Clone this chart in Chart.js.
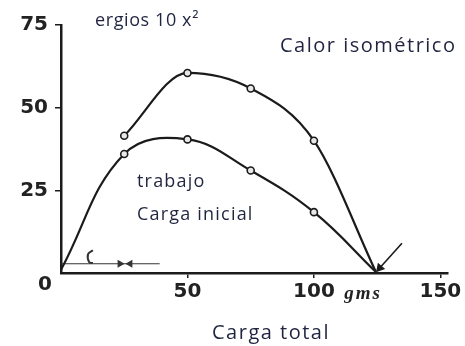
<!DOCTYPE html>
<html>
<head>
<meta charset="utf-8">
<script src="https://cdn.jsdelivr.net/npm/chart.js@4/dist/chart.umd.min.js"></script>
<style>
  html, body { margin: 0; padding: 0; background: #fff; }
  #wrap { width: 465px; height: 346px; }
</style>
</head>
<body>
<div id="wrap"><canvas id="myChart" width="465" height="346"></canvas></div>
<script>
// Curva superior: calor isométrico
const cargaCalor = [25, 50, 75, 100, 124.5];
const calorIsometrico = [41.5, 60.5, 55.8, 40, 0.3];

// Curva inferior: trabajo
const cargaTrabajo = [0, 25, 50, 75, 100, 124.5];
const trabajo = [1, 36, 40.4, 31, 18.4, 0.3];

// Marca de carga inicial: línea con dos puntas enfrentadas y el gancho
const flechaInicialX = [0, 23.3, 27.3, 39];
const flechaInicialY = [2.8, 2.8, 2.8, 2.8];
const ganchoX = [12.6, 10.7, 11.1, 12.6];
const ganchoY = [6.9, 5.7, 3.3, 3.0];

// Flecha que señala el final de las curvas
const flechaFinalX = [134.8, 126];
const flechaFinalY = [9, 1.5];

const xTicks = [50, 100, 150];
const yTicks = [25, 50, 75];

const ink = '#1b1b1b';
const textColor = '#1f2540';

function toPoints(xs, ys) {
    return xs.map((x, i) => ({ x: x, y: ys[i] }));
}

// marcadores solo en los puntos medidos, no en los extremos
function markers(n, first, last) {
    return Array.from({ length: n }, (_, i) => (i < first || i > n - 1 - last) ? 0 : 3.5);
}

// textos sueltos del dibujo
const textos = {
    id: 'textos',
    afterDraw(chart) {
        const ctx = chart.ctx;
        const x = chart.scales.x;
        const y = chart.scales.y;
        ctx.save();
        ctx.textBaseline = 'middle';
        ctx.textAlign = 'left';
        ctx.fillStyle = textColor;

        ctx.letterSpacing = '1.2px';
        ctx.font = '18px "Open Sans"';
        ctx.fillText('trabajo', 137, 182);
        ctx.fillText('Carga inicial', 137, 215);
        ctx.letterSpacing = '0.6px';
        ctx.fillText('ergios 10 x²', 95, 21);

        ctx.letterSpacing = '1.5px';
        ctx.font = '20px "Open Sans"';
        ctx.fillText('Calor isométrico', 280, 46);
        ctx.textAlign = 'center';
        ctx.fillText('Carga total', 271, 333);

        // "0" del origen y unidades del eje x
        ctx.letterSpacing = '0px';
        ctx.fillStyle = '#222';
        ctx.font = 'bold 20px "DejaVu Sans"';
        ctx.fillText('0', x.getPixelForValue(0) - 16, y.getPixelForValue(0) + 12);
        ctx.letterSpacing = '2px';
        ctx.font = 'italic bold 19px "Liberation Serif"';
        ctx.textAlign = 'left';
        ctx.fillText('gms', x.getPixelForValue(112), y.getPixelForValue(0) + 21);
        ctx.restore();
    }
};

const ctx = document.getElementById('myChart').getContext('2d');

new Chart(ctx, {
    type: 'line',
    data: {
        datasets: [
            {
                label: 'Calor isométrico',
                data: toPoints(cargaCalor, calorIsometrico),
                borderColor: ink,
                borderWidth: 2.2,
                backgroundColor: '#e8e8e8',
                pointBorderColor: ink,
                pointBorderWidth: 1.6,
                pointRadius: markers(cargaCalor.length, 0, 1),
                cubicInterpolationMode: 'monotone',
                fill: false
            },
            {
                label: 'trabajo',
                data: toPoints(cargaTrabajo, trabajo),
                borderColor: ink,
                borderWidth: 2.2,
                backgroundColor: '#e8e8e8',
                pointBorderColor: ink,
                pointBorderWidth: 1.6,
                pointRadius: markers(cargaTrabajo.length, 1, 1),
                tension: 0.4,
                fill: false
            },
            {
                label: 'carga inicial',
                data: toPoints(flechaInicialX, flechaInicialY),
                borderColor: '#333',
                borderWidth: 1.2,
                pointStyle: 'triangle',
                pointRotation: [0, 90, 270, 0],
                pointRadius: [0, 3.5, 3.5, 0],
                pointBackgroundColor: '#333',
                pointBorderColor: '#333',
                fill: false
            },
            {
                label: 'gancho',
                data: toPoints(ganchoX, ganchoY),
                borderColor: '#333',
                borderWidth: 2,
                pointRadius: 0,
                tension: 0.4,
                fill: false
            },
            {
                label: 'flecha final',
                data: toPoints(flechaFinalX, flechaFinalY),
                borderColor: ink,
                borderWidth: 1.6,
                pointStyle: 'triangle',
                pointRotation: 221,
                pointRadius: [0, 4],
                pointBackgroundColor: ink,
                pointBorderColor: ink,
                fill: false
            }
        ]
    },
    options: {
        responsive: false,
        animation: false,
        layout: { padding: { top: 25, right: 17, left: 0, bottom: 0 } },
        plugins: {
            legend: { display: false },
            tooltip: { enabled: false }
        },
        scales: {
            x: {
                type: 'linear',
                min: 0,
                max: 153,
                afterBuildTicks: axis => { axis.ticks = xTicks.map(v => ({ value: v })); },
                afterFit: axis => { axis.height = 73; },
                border: { color: ink, width: 2.5 },
                grid: { drawOnChartArea: false, color: ink, lineWidth: 1.5, tickLength: 5 },
                ticks: {
                    color: '#222',
                    font: { family: 'DejaVu Sans', size: 20, weight: 'bold' },
                    padding: 2,
                    maxRotation: 0
                }
            },
            y: {
                type: 'linear',
                min: 0,
                max: 75,
                afterBuildTicks: axis => { axis.ticks = yTicks.map(v => ({ value: v })); },
                afterFit: axis => { axis.width = 61; },
                border: { color: ink, width: 2.5 },
                grid: { drawOnChartArea: false, color: ink, lineWidth: 1.5, tickLength: 6 },
                ticks: {
                    color: '#222',
                    font: { family: 'DejaVu Sans', size: 20, weight: 'bold' },
                    padding: 7
                }
            }
        }
    },
    plugins: [textos]
});
</script>
</body>
</html>
